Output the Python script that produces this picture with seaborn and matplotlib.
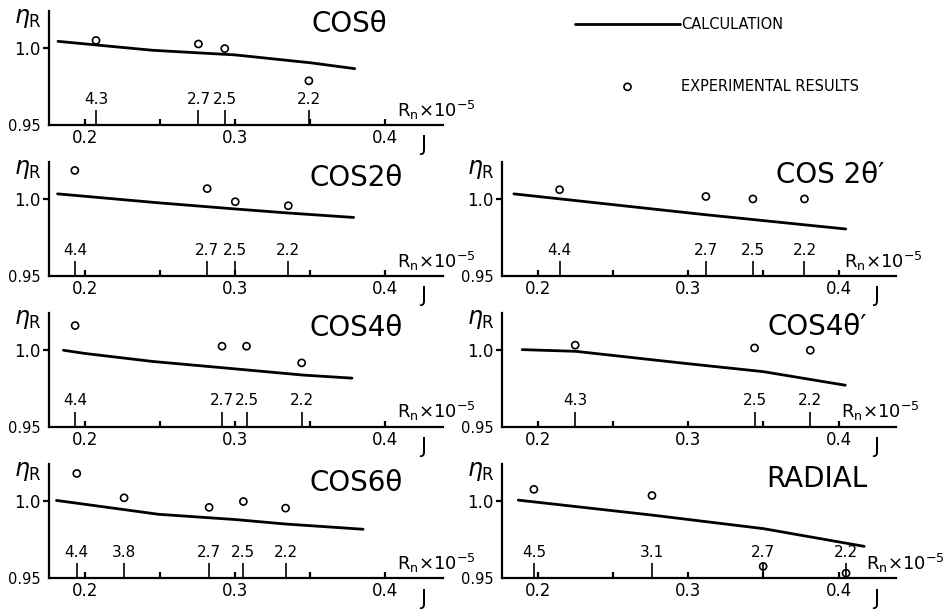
import matplotlib
matplotlib.use("Agg")
import matplotlib.pyplot as plt
import seaborn as sns

# calculation curves (J, eta_R) and experimental points, one set per blade section
J_CALC_COS1 = [0.182, 0.245, 0.300, 0.350, 0.3795]
ETA_CALC_COS1 = [1.0043, 0.9985, 0.9955, 0.9904, 0.9866]
J_EXP_COS1 = [0.2073, 0.2755, 0.293, 0.349]
ETA_EXP_COS1 = [1.0049, 1.0026, 0.9996, 0.9787]
RN_COS1 = ["4.3", "2.7", "2.5", "2.2"]

J_CALC_COS2 = [0.1817, 0.250, 0.300, 0.335, 0.3788]
ETA_CALC_COS2 = [1.0033, 0.9974, 0.9935, 0.9909, 0.988]
J_EXP_COS2 = [0.1932, 0.2813, 0.300, 0.3353]
ETA_EXP_COS2 = [1.0185, 1.0067, 0.9982, 0.9956]
RN_COS2 = ["4.4", "2.7", "2.5", "2.2"]

J_CALC_COS2P = [0.1839, 0.3093, 0.4048]
ETA_CALC_COS2P = [1.0033, 0.990, 0.9805]
J_EXP_COS2P = [0.2143, 0.3117, 0.343, 0.3773]
ETA_EXP_COS2P = [1.006, 1.0016, 1.000, 1.000]
RN_COS2P = ["4.4", "2.7", "2.5", "2.2"]

J_CALC_COS4 = [0.1856, 0.200, 0.2452, 0.300, 0.345, 0.3777]
ETA_CALC_COS4 = [0.9996, 0.9975, 0.9923, 0.9875, 0.9835, 0.9815]
J_EXP_COS4 = [0.1934, 0.2912, 0.3075, 0.3442]
ETA_EXP_COS4 = [1.0156, 1.0022, 1.0022, 0.9914]
RN_COS4 = ["4.4", "2.7", "2.5", "2.2"]

J_CALC_COS4P = [0.1894, 0.225, 0.2966, 0.350, 0.4045]
ETA_CALC_COS4P = [1.000, 0.9989, 0.9912, 0.9857, 0.9769]
J_EXP_COS4P = [0.2247, 0.3441, 0.3812]
ETA_EXP_COS4P = [1.0029, 1.0011, 0.9996]
RN_COS4P = ["4.3", "2.5", "2.2"]

J_CALC_COS6 = [0.181, 0.249, 0.300, 0.3335, 0.3851]
ETA_CALC_COS6 = [1.0005, 0.9915, 0.9881, 0.9852, 0.9818]
J_EXP_COS6 = [0.1945, 0.226, 0.2826, 0.3054, 0.3335]
ETA_EXP_COS6 = [1.018, 1.0022, 0.996, 0.9998, 0.9955]
RN_COS6 = ["4.4", "3.8", "2.7", "2.5", "2.2"]

J_CALC_RAD = [0.1868, 0.2758, 0.350, 0.4171]
ETA_CALC_RAD = [1.0007, 0.991, 0.9822, 0.9707]
J_EXP_RAD = [0.1972, 0.2758, 0.3498, 0.405]
ETA_EXP_RAD = [1.0077, 1.0037, 0.9577, 0.9533]
RN_RAD = ["4.5", "3.1", "2.7", "2.2"]

LEFT, RIGHT = 0.0514, 0.5268
# title, axes origin, data..., title position, x of the "Rn x 10^-5" label
panels = [
    ("COSθ", [LEFT, 0.795], J_CALC_COS1, ETA_CALC_COS1, J_EXP_COS1, ETA_EXP_COS1, RN_COS1, (0.764, 0.885), 0.883),
    ("COS2θ", [LEFT, 0.5475], J_CALC_COS2, ETA_CALC_COS2, J_EXP_COS2, ETA_EXP_COS2, RN_COS2, (0.78, 0.86), 0.883),
    ("COS 2θ′", [RIGHT, 0.5475], J_CALC_COS2P, ETA_CALC_COS2P, J_EXP_COS2P, ETA_EXP_COS2P, RN_COS2P, (0.835, 0.886), 0.868),
    ("COS4θ", [LEFT, 0.3005], J_CALC_COS4, ETA_CALC_COS4, J_EXP_COS4, ETA_EXP_COS4, RN_COS4, (0.78, 0.868), 0.883),
    ("COS4θ′", [RIGHT, 0.3005], J_CALC_COS4P, ETA_CALC_COS4P, J_EXP_COS4P, ETA_EXP_COS4P, RN_COS4P, (0.80, 0.877), 0.86),
    ("COS6θ", [LEFT, 0.052], J_CALC_COS6, ETA_CALC_COS6, J_EXP_COS6, ETA_EXP_COS6, RN_COS6, (0.78, 0.835), 0.883),
    ("RADIAL", [RIGHT, 0.052], J_CALC_RAD, ETA_CALC_RAD, J_EXP_RAD, ETA_EXP_RAD, RN_RAD, (0.80, 0.87), 0.925),
]

sns.set_style("white")
plt.rcParams["font.family"] = ["DejaVu Sans"]
plt.rcParams["mathtext.fontset"] = "dejavusans"
plt.rcParams["text.color"] = "black"
plt.rcParams["xtick.color"] = "black"
plt.rcParams["ytick.color"] = "black"

fig = plt.figure(figsize=(9.53, 6.10), dpi=100)

handles, labels = None, None
for title, (x0, y0), jc, ec, je, ee, rn, tpos, rn_x in panels:
    ax = fig.add_axes([x0, y0, 0.413, 0.187])
    sns.lineplot(x=jc, y=ec, ax=ax, color="black", linewidth=2.0, label="CALCULATION")
    sns.scatterplot(x=je, y=ee, ax=ax, marker="o", s=26, facecolors="none",
                    edgecolors="black", linewidth=1.2, label="EXPERIMENTAL RESULTS", zorder=3)
    if handles is None:
        handles, labels = ax.get_legend_handles_labels()
    ax.get_legend().remove()

    ax.set_xlim(0.176, 0.438)
    ax.set_ylim(0.95, 1.024)
    sns.despine(ax=ax)
    for s in ["left", "bottom"]:
        ax.spines[s].set_linewidth(1.6)
        ax.spines[s].set_color("black")

    ax.set_xticks([0.2, 0.3, 0.4], ["0.2", "0.3", "0.4"])
    ax.set_xticks([0.25, 0.35], minor=True)
    ax.tick_params(axis="x", which="both", direction="in", length=4, width=1.6,
                   labelsize=12, pad=3, bottom=True)
    ax.set_yticks([0.95, 1.0], ["0.95", "1.0"])
    ax.tick_params(axis="y", direction="out", length=4, width=1.6, labelsize=12,
                   pad=2, left=True)
    ax.get_yticklabels()[0].set_fontsize(10.5)
    ax.yaxis.get_major_ticks()[0].tick1line.set_visible(False)

    # Reynolds number marks on the J axis
    ax.vlines(je, 0, 0.13, transform=ax.get_xaxis_transform(), color="black", linewidth=1.2)
    for j, r in zip(je, rn):
        ax.text(j, 0.16, r, transform=ax.get_xaxis_transform(), ha="center", va="bottom", fontsize=11)

    ax.text(tpos[0], tpos[1], title, transform=ax.transAxes, ha="center", va="center", fontsize=20)
    ax.text(-0.018, 0.94, r"$\eta_\mathrm{R}$", transform=ax.transAxes, ha="right", va="center", fontsize=17)
    ax.text(rn_x, 0.03, r"R$_\mathrm{n}$×10$^{-5}$", transform=ax.transAxes, ha="left", va="bottom", fontsize=13)
    ax.text(0.95, -0.09, "J", transform=ax.transAxes, ha="center", va="top", fontsize=15)

fig.legend(handles, labels, loc="upper left", bbox_to_anchor=(575 / 953, 1 - 17 / 610),
           frameon=False, fontsize=10.5, handlelength=7.2, handletextpad=0.1,
           labelspacing=3.2, borderpad=0, borderaxespad=0)

fig.savefig("out.png", dpi=100)
